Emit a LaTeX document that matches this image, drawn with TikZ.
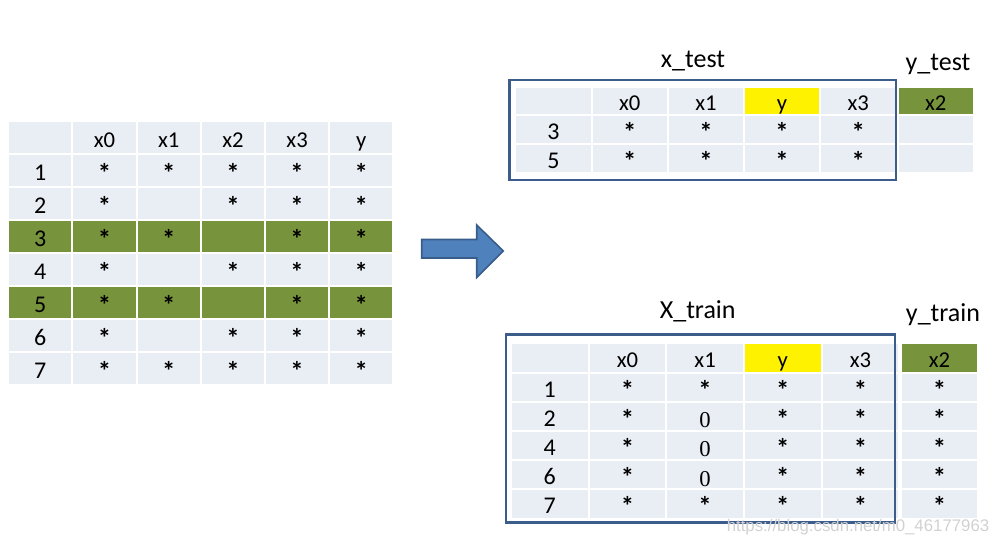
\documentclass[tikz,border=0pt]{standalone}
\usepackage{fontspec}
\setmainfont{Carlito}
\newfontfamily\zerofont{Liberation Serif}
\newfontfamily\markfont{Liberation Sans}
\usepackage{tikz}

\definecolor{cellbg}{HTML}{E9EDF4}
\definecolor{olive}{HTML}{77933C}
\definecolor{framebl}{HTML}{3C5D8C}
\definecolor{arrowfill}{HTML}{4F81BD}
\definecolor{arrowdraw}{HTML}{385D8A}

\newcommand\starmark{\raisebox{-1.5pt}{\fontsize{20}{20}\selectfont\bfseries *}}

\tikzset{
  cell/.style={fill=cellbg, draw=white, line width=1.5pt, inner sep=0pt,
    text height=15pt, text depth=0pt, font=\fontsize{17}{17}\selectfont},
  srccell/.style={cell, minimum width=48.15pt, minimum height=24.75pt},
  testcell/.style={cell, minimum width=57.15pt, minimum height=21.5pt},
  traincell/.style={cell, minimum width=58.3pt, minimum height=21.9pt},
  zerocell/.style={traincell, text height=17pt, font=\zerofont\fontsize{17}{17}\selectfont},
  rowno/.style={font=\fontsize{18}{18}\selectfont},
  title/.style={anchor=base, inner sep=0pt, font=\fontsize{19.5}{19.5}\selectfont},
  frame/.style={draw=framebl, line width=2pt},
  blockarrow/.style={fill=arrowfill, draw=arrowdraw, line width=1.2pt, line join=miter},
  watermark/.style={text=black!18, inner sep=0pt, font=\markfont\fontsize{12.6}{12.6}\selectfont}
}

\begin{document}
\begin{tikzpicture}[x=0.75pt,y=-0.75pt]
\useasboundingbox (0,0) rectangle (991,545);

% full table
\node[srccell] (src-h-0) at (40.3,138) {};
\foreach \t [count=\col] in {x0,x1,x2,x3,y}
  \node[srccell] (src-h-\col) at ({40.3+64.2*\col},138) {\t};
\foreach \lab/\fc/\ca/\cb/\cc/\cd/\ce in {
    1/cellbg/\starmark/\starmark/\starmark/\starmark/\starmark,
    2/cellbg/\starmark/{}/\starmark/\starmark/\starmark,
    3/olive/\starmark/\starmark/{}/\starmark/\starmark,
    4/cellbg/\starmark/{}/\starmark/\starmark/\starmark,
    5/olive/\starmark/\starmark/{}/\starmark/\starmark,
    6/cellbg/\starmark/{}/\starmark/\starmark/\starmark,
    7/cellbg/\starmark/\starmark/\starmark/\starmark/\starmark}{
  \node[srccell,rowno,fill=\fc] (src-\lab-0) at (40.3,{137.5+33*\lab}) {\lab};
  \foreach \t [count=\col] in {\ca,\cb,\cc,\cd,\ce}
    \node[srccell,fill=\fc] (src-\lab-\col) at ({40.3+64.2*\col},{137.5+33*\lab}) {\t};
}

% arrow
\draw[blockarrow] (421.7,239.5) -- (476.7,239.5) -- (476.7,225) -- (503.3,251)
  -- (476.7,277.5) -- (476.7,258) -- (421.7,258) -- cycle;

% x_test / y_test
\node[title] (xtest) at (693,67.5) {x\_test};
\node[title] (ytest) at (938,71) {y\_test};
\node[testcell] (test-h-0) at (553.5,101) {};
\foreach \t/\fc [count=\col] in {x0/cellbg,x1/cellbg,y/yellow,x3/cellbg}
  \node[testcell,fill=\fc] (test-h-\col) at ({553.5+76.2*\col},101) {\t};
\node[testcell,fill=olive] (test-h-y) at (935.7,101) {x2};
\foreach \lab/\yy in {3/129.5,5/158.4}{
  \node[testcell,rowno] (test-\lab-0) at (553.5,\yy) {\lab};
  \foreach \col in {1,...,4}
    \node[testcell] (test-\lab-\col) at ({553.5+76.2*\col},\yy) {\starmark};
  \node[testcell] (test-\lab-y) at (935.7,\yy) {};
}
\draw[frame] (509.3,80) rectangle (896,180);

% X_train / y_train
\node[title] (xtrain) at (697.7,318.3) {X\_train};
\node[title] (ytrain) at (943,321.7) {y\_train};
\node[traincell] (train-h-0) at (549.7,357.9) {};
\foreach \t/\fc [count=\col] in {x0/cellbg,x1/cellbg,y/yellow,x3/cellbg}
  \node[traincell,fill=\fc] (train-h-\col) at ({549.7+77.7*\col},357.9) {\t};
\node[traincell,fill=olive] (train-h-y) at (939.5,357.9) {x2};
\foreach \lab/\xa [count=\r] in {1/s,2/0,4/0,6/0,7/s}{
  \node[traincell,rowno] (train-\lab-0) at (549.7,{357.9+29.2*\r}) {\lab};
  \node[traincell] (train-\lab-1) at (627.4,{357.9+29.2*\r}) {\starmark};
  \if\xa0
    \node[zerocell] (train-\lab-2) at (705.1,{357.9+29.2*\r}) {0};
  \else
    \node[traincell] (train-\lab-2) at (705.1,{357.9+29.2*\r}) {\starmark};
  \fi
  \node[traincell] (train-\lab-3) at (782.8,{357.9+29.2*\r}) {\starmark};
  \node[traincell] (train-\lab-4) at (860.5,{357.9+29.2*\r}) {\starmark};
  \node[traincell] (train-\lab-y) at (939.5,{357.9+29.2*\r}) {\starmark};
}
\draw[frame] (506,334.3) rectangle (895,522.7);

\node[watermark] (blog) at (858,527) {https://blog.csdn.net/m0\_46177963};
\end{tikzpicture}
\end{document}
